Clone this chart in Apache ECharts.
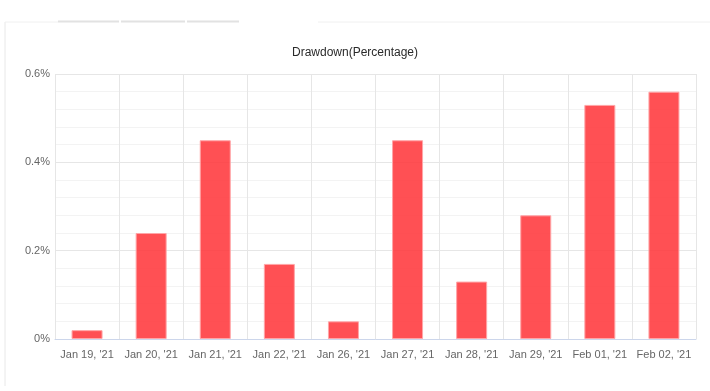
<!DOCTYPE html>
<html><head><meta charset="utf-8">
<script src="https://cdn.jsdelivr.net/npm/echarts@6/dist/echarts.min.js"></script>
<style>html,body{margin:0;padding:0;background:#fff;}#c{width:710px;height:391px;}</style>
</head><body><div id="c"></div>
<script>
var categories = ["Jan 19, '21","Jan 20, '21","Jan 21, '21","Jan 22, '21","Jan 26, '21","Jan 27, '21","Jan 28, '21","Jan 29, '21","Feb 01, '21","Feb 02, '21"];
var drawdown = [0.02,0.24,0.45,0.17,0.04,0.45,0.13,0.28,0.53,0.56];
var chartTitle = "Drawdown(Percentage)";

var chart = echarts.init(document.getElementById('c'), null, {renderer:'canvas'});
chart.setOption({
  animation:false,
  backgroundColor:'#fff',
  title:{text:chartTitle,left:'center',top:42,textStyle:{fontFamily:'Liberation Sans, Arial',fontSize:12,fontWeight:'normal',color:'#2a2a2a'}},
  graphic:[
    {type:'line',shape:{x1:5,y1:22,x2:5,y2:386},style:{stroke:'#e8e8e8',lineWidth:1}},
    {type:'line',shape:{x1:5,y1:22,x2:58,y2:22},style:{stroke:'#f0f0f0',lineWidth:1}},
    {type:'line',shape:{x1:58,y1:21.5,x2:119,y2:21.5},style:{stroke:'#e2e2e2',lineWidth:2}},
    {type:'line',shape:{x1:121,y1:21.5,x2:185,y2:21.5},style:{stroke:'#e2e2e2',lineWidth:2}},
    {type:'line',shape:{x1:187,y1:21.5,x2:239,y2:21.5},style:{stroke:'#e2e2e2',lineWidth:2}},
    {type:'line',shape:{x1:318,y1:22,x2:710,y2:22},style:{stroke:'#f0f0f0',lineWidth:1}}
  ],
  grid:{left:55,right:14,top:74,bottom:52,containLabel:false},
  xAxis:{type:'category',data:categories,boundaryGap:true,
    axisLine:{lineStyle:{color:'#ccd6eb'}},axisTick:{show:false},
    axisLabel:{color:'#666',fontFamily:'Liberation Sans, Arial',fontSize:11,margin:10,interval:0},
    splitLine:{show:true,lineStyle:{color:'#e6e6e6'}}},
  yAxis:{type:'value',min:0,max:0.6,interval:0.2,
    axisLine:{show:false},axisTick:{show:false},
    axisLabel:{color:'#666',fontFamily:'Liberation Sans, Arial',fontSize:11,margin:5,formatter:function(v){return (Math.round(v*10)/10)+'%';}},
    splitLine:{lineStyle:{color:'#e6e6e6'}},
    minorTick:{show:false,splitNumber:5},
    minorSplitLine:{show:true,lineStyle:{color:'#f3f3f3'}}},
  series:[{type:'bar',data:drawdown,barWidth:31,
    itemStyle:{color:'rgba(255,56,60,0.88)',borderColor:'#ffa5a7',borderWidth:1}}]
});
</script></body></html>
